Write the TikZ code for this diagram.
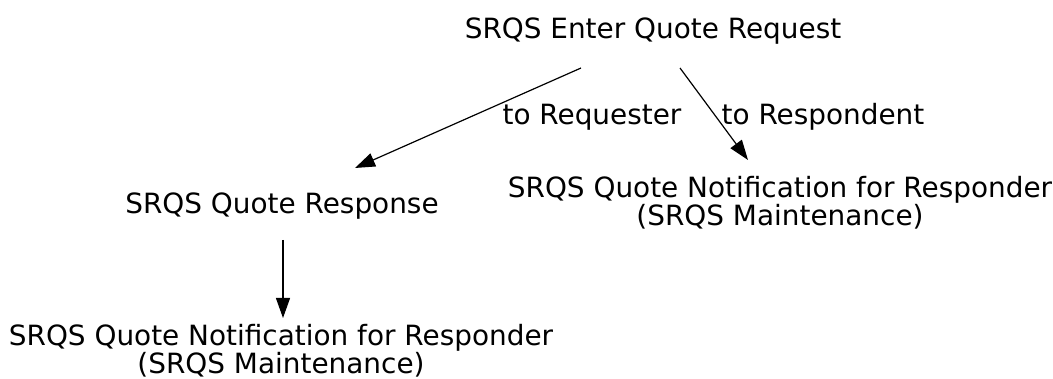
\documentclass[tikz,border=0pt]{standalone}
\usepackage{fontspec}
\setmainfont{DejaVu Sans}
\usetikzlibrary{arrows.meta,calc}
\tikzset{
  lbl/.style={font=\fontsize{27.9}{27}\selectfont, inner sep=0pt, align=center},
  conn/.style={line width=1.2pt, -{Triangle[length=20pt,width=14pt]}}
}
\begin{document}
\begin{tikzpicture}[x=1pt,y=-1pt]
\useasboundingbox (0,0) rectangle (1053,379);
\node[lbl] (top) at (653,31) {SRQS Enter Quote Request};
\node[lbl] (resp) at (282,206) {SRQS Quote Response};
\node[lbl] (rnot) at (780,203) {SRQS Quote Notification for Responder\\(SRQS Maintenance)};
\node[lbl] (bnot) at (281,351) {SRQS Quote Notification for Responder\\(SRQS Maintenance)};
\draw[conn] ($(top.center)+(-72,37)$) -- ($(resp.center)+(73,-38)$);
\draw[conn] ($(top.center)+(27,37)$) -- ($(rnot.center)+(-32,-43)$);
\draw[conn] ($(resp.center)+(1,34)$) -- ($(bnot.center)+(2,-33)$);
\node[lbl] (l1) at (592,117) {to Requester};
\node[lbl] (l2) at (823,117) {to Respondent};
\end{tikzpicture}
\end{document}
